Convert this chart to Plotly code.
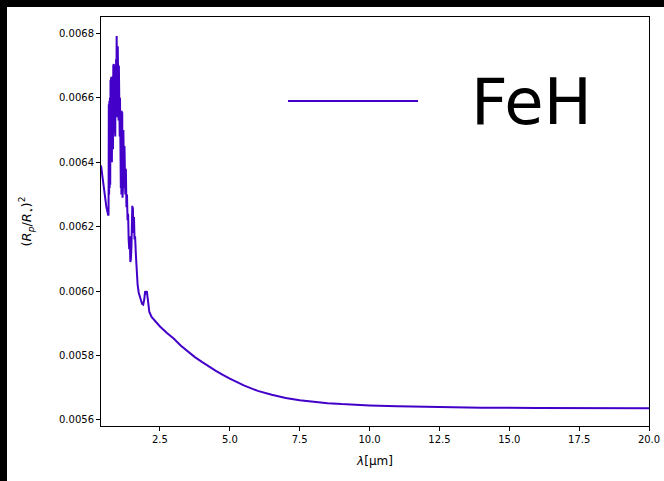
import plotly.graph_objects as go

wavelength_um = [
    0.390, 0.450, 0.520, 0.580, 0.640, 0.660, 0.670, 0.680, 0.690, 0.700,
    0.710, 0.720, 0.730, 0.740, 0.750, 0.760, 0.770, 0.780, 0.790, 0.800,
    0.810, 0.820, 0.830, 0.840, 0.850, 0.860, 0.870, 0.880, 0.890, 0.900,
    0.910, 0.920, 0.930, 0.940, 0.950, 0.960, 0.970, 0.980, 0.990, 1.000,
    1.010, 1.020, 1.030, 1.040, 1.050, 1.060, 1.070, 1.080, 1.090, 1.100,
    1.110, 1.120, 1.130, 1.140, 1.150, 1.160, 1.170, 1.180, 1.190, 1.200,
    1.210, 1.220, 1.230, 1.240, 1.250, 1.260, 1.280, 1.300, 1.320, 1.340,
    1.360, 1.380, 1.400, 1.420, 1.440, 1.460, 1.480, 1.490, 1.500, 1.510,
    1.520, 1.530, 1.550, 1.570, 1.590, 1.610, 1.640, 1.670, 1.700, 1.740,
    1.780, 1.820, 1.860, 1.900, 1.940, 1.970, 2.000, 2.030, 2.070, 2.120,
    2.200, 2.350, 2.500, 2.750, 3.000, 3.250, 3.500, 3.750, 4.000, 4.250,
    4.500, 4.750, 5.000, 5.500, 6.000, 6.500, 7.000, 7.500, 8.000, 8.500,
    9.000, 9.500, 10.00, 11.00, 12.00, 13.00, 14.00, 16.00, 18.00, 20.00,
]

transit_depth = [
    0.006390, 0.006345, 0.006300, 0.006262, 0.006238, 0.006235, 0.006580, 0.006300, 0.006590, 0.006320,
    0.006600, 0.006330, 0.006655, 0.006400, 0.006660, 0.006420, 0.006665, 0.006400, 0.006640, 0.006450,
    0.006665, 0.006440, 0.006700, 0.006500, 0.006705, 0.006490, 0.006690, 0.006520, 0.006700, 0.006480,
    0.006660, 0.006540, 0.006720, 0.006560, 0.006792, 0.006600, 0.006790, 0.006540, 0.006760, 0.006560,
    0.006720, 0.006530, 0.006700, 0.006520, 0.006640, 0.006480, 0.006600, 0.006400, 0.006560, 0.006320,
    0.006540, 0.006300, 0.006560, 0.006310, 0.006555, 0.006290, 0.006520, 0.006330, 0.006500, 0.006340,
    0.006470, 0.006320, 0.006450, 0.006330, 0.006420, 0.006300, 0.006380, 0.006260, 0.006300, 0.006220,
    0.006240, 0.006160, 0.006130, 0.006170, 0.006090, 0.006100, 0.006140, 0.006260, 0.006170, 0.006265,
    0.006180, 0.006260, 0.006190, 0.006230, 0.006160, 0.006170, 0.006110, 0.006060, 0.006020, 0.005995,
    0.005985, 0.005975, 0.005960, 0.005958, 0.005975, 0.006000, 0.005990, 0.006000, 0.005970, 0.005935,
    0.005920, 0.005905, 0.005890, 0.005870, 0.005852, 0.005830, 0.005812, 0.005795, 0.005780, 0.005765,
    0.005752, 0.005740, 0.005728, 0.005707, 0.005690, 0.005678, 0.005668, 0.005661, 0.005656, 0.005652,
    0.005649, 0.005646, 0.005645, 0.005642, 0.005640, 0.005639, 0.005638, 0.005637, 0.005636, 0.005636,
]

series_name = "FeH"
x_tick_values = [2.5, 5.0, 7.5, 10.0, 12.5, 15.0, 17.5, 20.0]
y_tick_values = [0.0056, 0.0058, 0.0060, 0.0062, 0.0064, 0.0066, 0.0068]

line_color = "#4300c8"
font_family = "DejaVu Sans, Verdana, sans-serif"

# layout geometry (pixels)
W, H = 664, 481
ML, MR, MT, MB = 101, 15, 17, 55
PW, PH = W - ML - MR, H - MT - MB


def px_x(p):
    return (p - ML) / PW


def px_y(p):
    return (H - MB - p) / PH


fig = go.Figure()
fig.add_trace(go.Scatter(
    x=wavelength_um, y=transit_depth, mode="lines", name=series_name,
    line=dict(color=line_color, width=2), showlegend=False,
))

# black frame strips at top and left of the page (kept inside the figure)
fig.add_shape(type="rect", xref="paper", yref="paper",
              x0=px_x(0), x1=px_x(W), y0=px_y(7), y1=px_y(0),
              fillcolor="black", line=dict(width=0), layer="above")
fig.add_shape(type="rect", xref="paper", yref="paper",
              x0=px_x(0), x1=px_x(7), y0=px_y(H), y1=px_y(0),
              fillcolor="black", line=dict(width=0), layer="above")

# manual legend
fig.add_shape(type="line", xref="paper", yref="paper",
              x0=px_x(288), x1=px_x(418), y0=px_y(101), y1=px_y(101),
              line=dict(color=line_color, width=2))
fig.add_annotation(text=series_name, xref="paper", yref="paper",
                   x=px_x(531), y=px_y(102),
                   xanchor="center", yanchor="middle", showarrow=False,
                   font=dict(family=font_family, size=64, color="black"))

axis_common = dict(
    showline=True, linecolor="black", linewidth=1, mirror=True,
    ticks="outside", ticklen=4, tickwidth=1, tickcolor="black",
    showgrid=False, zeroline=False,
    tickfont=dict(family=font_family, size=10, color="black"),
)

fig.update_xaxes(
    range=[0.39, 20.0], tickvals=x_tick_values,
    ticktext=[f"{v:.1f}" for v in x_tick_values],
    title=dict(text="<i>λ</i>[μm]", font=dict(family=font_family, size=12, color="black"), standoff=12),
    **axis_common,
)
fig.update_yaxes(
    range=[0.005581, 0.006851], tickvals=y_tick_values,
    ticktext=[f"{v:.4f}" for v in y_tick_values],
    title=dict(text="(<i>R</i><sub><i>p</i></sub>/<i>R</i><sub>⋆</sub>)<sup>2</sup>",
               font=dict(family=font_family, size=13, color="black"), standoff=24),
    **axis_common,
)

fig.update_layout(
    width=W, height=H,
    margin=dict(l=ML, r=MR, t=MT, b=MB, autoexpand=False),
    paper_bgcolor="white", plot_bgcolor="white",
    font=dict(family=font_family, color="black"),
)

page_fix = (
    "document.documentElement.style.overflow='hidden';"
    "document.body.style.overflow='hidden';"
    "document.body.style.margin='0';"
    "document.body.style.background='white';"
)
fig.write_html("out.html", post_script=page_fix)
